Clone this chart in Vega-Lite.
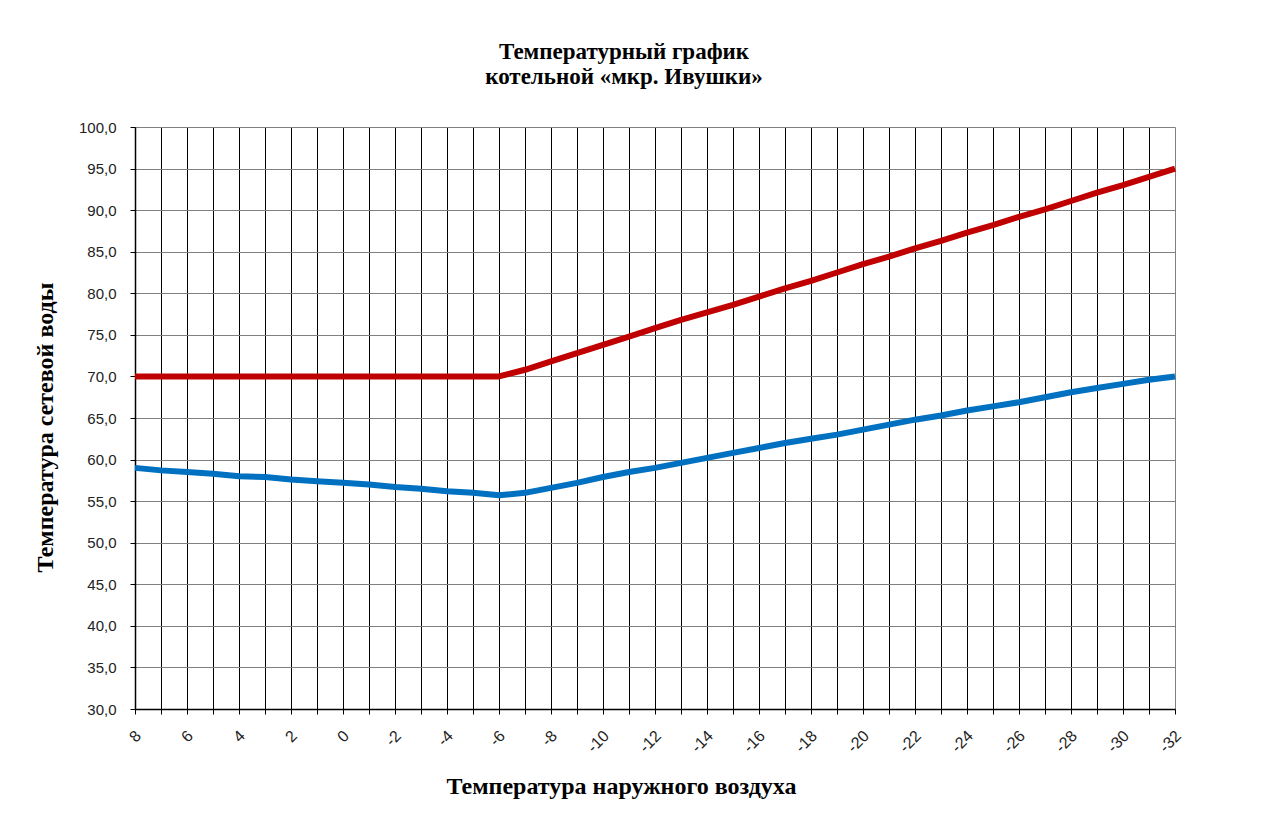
{
  "$schema": "https://vega.github.io/schema/vega-lite/v6.json",
  "autosize": {"type": "none"},
  "padding": {"left": 135, "top": 127, "right": 90, "bottom": 105},
  "width": 1040,
  "height": 582,
  "background": "#ffffff",
  "title": {
    "text": ["Температурный график", "котельной «мкр. Ивушки»"],
    "anchor": "middle",
    "dx": -31,
    "offset": 31,
    "font": "Liberation Serif",
    "fontSize": 23,
    "fontWeight": "bold",
    "lineHeight": 25,
    "color": "#000000"
  },
  "config": {
    "view": {"stroke": null},
    "axis": {
      "labelFont": "Liberation Sans",
      "labelFontSize": 15,
      "labelColor": "#222222",
      "titleFont": "Liberation Serif",
      "titleFontSize": 24,
      "titleFontWeight": "bold",
      "titleColor": "#000000",
      "domainColor": "#000000",
      "domainWidth": 1.5,
      "tickColor": "#000000",
      "tickSize": 5
    }
  },
  "data": {
    "values": [
      {"t": 8, "s": "Подача", "v": 70.0}, {"t": 7, "s": "Подача", "v": 70.0}, {"t": 6, "s": "Подача", "v": 70.0},
      {"t": 5, "s": "Подача", "v": 70.0}, {"t": 4, "s": "Подача", "v": 70.0}, {"t": 3, "s": "Подача", "v": 70.0},
      {"t": 2, "s": "Подача", "v": 70.0}, {"t": 1, "s": "Подача", "v": 70.0}, {"t": 0, "s": "Подача", "v": 70.0},
      {"t": -1, "s": "Подача", "v": 70.0}, {"t": -2, "s": "Подача", "v": 70.0}, {"t": -3, "s": "Подача", "v": 70.0},
      {"t": -4, "s": "Подача", "v": 70.0}, {"t": -5, "s": "Подача", "v": 70.0}, {"t": -6, "s": "Подача", "v": 70.0},
      {"t": -7, "s": "Подача", "v": 70.8}, {"t": -8, "s": "Подача", "v": 71.8}, {"t": -9, "s": "Подача", "v": 72.8},
      {"t": -10, "s": "Подача", "v": 73.8}, {"t": -11, "s": "Подача", "v": 74.8}, {"t": -12, "s": "Подача", "v": 75.8},
      {"t": -13, "s": "Подача", "v": 76.8}, {"t": -14, "s": "Подача", "v": 77.7}, {"t": -15, "s": "Подача", "v": 78.6},
      {"t": -16, "s": "Подача", "v": 79.6}, {"t": -17, "s": "Подача", "v": 80.6}, {"t": -18, "s": "Подача", "v": 81.5},
      {"t": -19, "s": "Подача", "v": 82.5}, {"t": -20, "s": "Подача", "v": 83.5}, {"t": -21, "s": "Подача", "v": 84.4},
      {"t": -22, "s": "Подача", "v": 85.4}, {"t": -23, "s": "Подача", "v": 86.3}, {"t": -24, "s": "Подача", "v": 87.3},
      {"t": -25, "s": "Подача", "v": 88.2}, {"t": -26, "s": "Подача", "v": 89.2}, {"t": -27, "s": "Подача", "v": 90.1},
      {"t": -28, "s": "Подача", "v": 91.1}, {"t": -29, "s": "Подача", "v": 92.1}, {"t": -30, "s": "Подача", "v": 93.0},
      {"t": -31, "s": "Подача", "v": 94.0}, {"t": -32, "s": "Подача", "v": 95.0},
      {"t": 8, "s": "Обратка", "v": 59.0}, {"t": 7, "s": "Обратка", "v": 58.7}, {"t": 6, "s": "Обратка", "v": 58.5},
      {"t": 5, "s": "Обратка", "v": 58.3}, {"t": 4, "s": "Обратка", "v": 58.0}, {"t": 3, "s": "Обратка", "v": 57.9},
      {"t": 2, "s": "Обратка", "v": 57.6}, {"t": 1, "s": "Обратка", "v": 57.4}, {"t": 0, "s": "Обратка", "v": 57.2},
      {"t": -1, "s": "Обратка", "v": 57.0}, {"t": -2, "s": "Обратка", "v": 56.7}, {"t": -3, "s": "Обратка", "v": 56.5},
      {"t": -4, "s": "Обратка", "v": 56.2}, {"t": -5, "s": "Обратка", "v": 56.0}, {"t": -6, "s": "Обратка", "v": 55.7},
      {"t": -7, "s": "Обратка", "v": 56.0}, {"t": -8, "s": "Обратка", "v": 56.6}, {"t": -9, "s": "Обратка", "v": 57.2},
      {"t": -10, "s": "Обратка", "v": 57.9}, {"t": -11, "s": "Обратка", "v": 58.5}, {"t": -12, "s": "Обратка", "v": 59.0},
      {"t": -13, "s": "Обратка", "v": 59.6}, {"t": -14, "s": "Обратка", "v": 60.2}, {"t": -15, "s": "Обратка", "v": 60.8},
      {"t": -16, "s": "Обратка", "v": 61.4}, {"t": -17, "s": "Обратка", "v": 62.0}, {"t": -18, "s": "Обратка", "v": 62.5},
      {"t": -19, "s": "Обратка", "v": 63.0}, {"t": -20, "s": "Обратка", "v": 63.6}, {"t": -21, "s": "Обратка", "v": 64.2},
      {"t": -22, "s": "Обратка", "v": 64.8}, {"t": -23, "s": "Обратка", "v": 65.3}, {"t": -24, "s": "Обратка", "v": 65.9},
      {"t": -25, "s": "Обратка", "v": 66.4}, {"t": -26, "s": "Обратка", "v": 66.9}, {"t": -27, "s": "Обратка", "v": 67.5},
      {"t": -28, "s": "Обратка", "v": 68.1}, {"t": -29, "s": "Обратка", "v": 68.6}, {"t": -30, "s": "Обратка", "v": 69.1},
      {"t": -31, "s": "Обратка", "v": 69.6}, {"t": -32, "s": "Обратка", "v": 70.0}
    ]
  },
  "mark": {"type": "line", "strokeWidth": 6, "strokeCap": "butt", "strokeJoin": "round"},
  "encoding": {
    "x": {
      "field": "t",
      "type": "ordinal",
      "sort": "descending",
      "scale": {"type": "point", "padding": 0},
      "axis": {
        "title": "Температура наружного воздуха",
        "titleX": 486,
        "titleY": 77,
        "titleBaseline": "middle",
        "titleAlign": "center",
        "labelAngle": -45,
        "labelAlign": "right",
        "labelBaseline": "middle",
        "labelPadding": 19,
        "labelFontSize": 16,
        "labelOffset": 3,
        "labelExpr": "datum.value % 2 == 0 ? datum.label : ''",
        "grid": true,
        "gridColor": {"condition": {"test": "datum.value == -32", "value": "#808080"}, "value": "#000000"},
        "gridWidth": 1,
        "gridOpacity": 1
      }
    },
    "y": {
      "field": "v",
      "type": "quantitative",
      "scale": {"domain": [30, 100], "nice": false, "zero": false},
      "axis": {
        "title": "Температура сетевой воды",
        "titleX": -90,
        "titleY": 300,
        "titleAngle": -90,
        "titleAlign": "center",
        "titleBaseline": "middle",
        "values": [30, 35, 40, 45, 50, 55, 60, 65, 70, 75, 80, 85, 90, 95, 100],
        "labelExpr": "replace(format(datum.value, '.1f'), '.', ',')",
        "labelPadding": 14,
        "grid": true,
        "gridColor": "#808080",
        "gridWidth": 1,
        "gridOpacity": 1
      }
    },
    "color": {
      "field": "s",
      "type": "nominal",
      "scale": {"domain": ["Подача", "Обратка"], "range": ["#C00000", "#0070C0"]},
      "legend": null
    }
  }
}
